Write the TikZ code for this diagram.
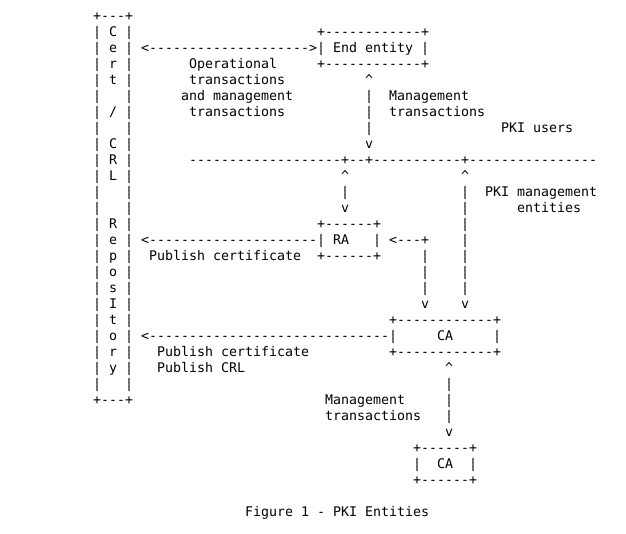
\documentclass[tikz,border=0pt]{standalone}
\usepackage{fontspec}
\setmonofont{DejaVu Sans Mono}
\newcommand\asciifont{\ttfamily\fontsize{13.29pt}{16pt}\selectfont}
\tikzset{
  ascii/.style={anchor=base west, inner sep=0pt, outer sep=0pt, align=left, font=\asciifont},
}
\begin{document}
\begin{tikzpicture}[x=8pt,y=-16pt]
\useasboundingbox[fill=white] (-5.625,-1) rectangle (72.625,32.375);
% repository column (placed by its last line)
\node[ascii] (repo) at (6,24.3)
{+---+\\| C |\\| e |\\| r |\\| t |\\|\ \ \ |\\| / |\\|\ \ \ |\\| C |\\| R |\\| L |\\%
|\ \ \ |\\|\ \ \ |\\| R |\\| e |\\| p |\\| o |\\| s |\\| I |\\| t |\\| o |\\| r |\\%
| y |\\|\ \ \ |\\+---+};
% entities
\node[ascii] (endentity) at (34,3.3) {+------------+\\| End entity |\\+------------+};
\node[ascii] (ra) at (34,15.3) {+------+\\| RA\ \ \ |\\+------+};
\node[ascii] (ca) at (43,21.3) {+------------+\\|\ \ \ \ \ CA\ \ \ \ \ |\\+------------+};
\node[ascii] (subca) at (46,29.3) {+------+\\|\ \ CA\ \ |\\+------+};
% end entity <-> repository
\node[ascii] (eearrow) at (12,2.3) {<-------------------->};
\node[ascii] (oplabel) at (17,6.3)
{\ Operational\\\ transactions\\and management\\\ transactions};
% end entity <-> management
\node[ascii] (eeline) at (40,8.3) {\textasciicircum\\|\\|\\|\\v};
\node[ascii] (eelabel) at (43,6.3) {Management\\transactions};
\node[ascii] (users) at (57,7.3) {PKI users};
\node[ascii] (divider) at (18,9.3) {-------------------+--+-----------+----------------};
\node[ascii] (raline) at (37,12.3) {\textasciicircum\\|\\v};
\node[ascii] (mgmtline) at (52,18.3) {\textasciicircum\\|\\|\\|\\|\\|\\|\\|\\v};
\node[ascii] (mgmtlabel) at (55,12.3) {PKI management\\\ \ \ \ entities};
% RA
\node[ascii] (raarrow) at (12,14.3) {<---------------------};
\node[ascii] (ralabel) at (13,15.3) {Publish certificate};
\node[ascii] (caraarrow) at (43,14.3) {<---+};
\node[ascii] (caraline) at (47,18.3) {|\\|\\|\\v};
% CA
\node[ascii] (caarrow) at (12,20.3) {<------------------------------};
\node[ascii] (calabel) at (14,22.3) {Publish certificate\\Publish CRL};
\node[ascii] (subcaline) at (50,26.3) {\textasciicircum\\|\\|\\|\\v};
\node[ascii] (subcalabel) at (35,25.3) {Management\\transactions};
\node[ascii] (caption) at (25,31.3) {Figure 1 - PKI Entities};
\end{tikzpicture}
\end{document}
